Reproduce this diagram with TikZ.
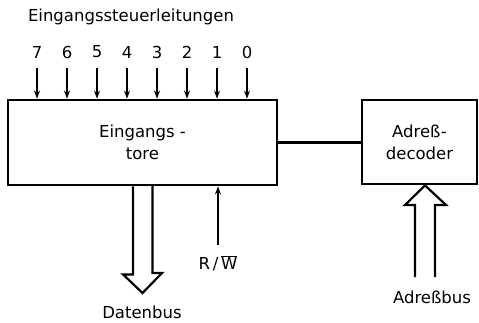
\documentclass[tikz,border=0pt]{standalone}
\usepackage{fontspec}
\setmainfont{DejaVu Sans}
\usetikzlibrary{calc,arrows.meta}
\begin{document}
\begin{tikzpicture}[x=1pt,y=-1pt, line width=2.2pt, line join=miter,
  box/.style={draw, line width=2.8pt, inner sep=0pt, align=center, font=\fontsize{16.5}{22}\selectfont},
  lbl/.style={font=\fontsize{16.5}{18}\selectfont, inner sep=0pt},
  inarr/.style={-{Stealth[length=8pt,width=6pt]}, line width=1.9pt}]
\useasboundingbox (0,0) rectangle (479,323);
\node[box, minimum width=269pt, minimum height=85pt] (tore) at (142.5,142.5) {Eingangs -\\tore};
\node[box, minimum width=115pt, minimum height=84pt] (deco) at (419.5,142) {Adreß-\\decoder};
\node[lbl] (title) at (131,17) {Eingangssteuerleitungen};
\foreach \i/\x in {7/37,6/67,5/97,4/127,3/157,2/187,1/217,0/247}{
  \node[lbl] (n\i) at (\x,52) {\i};
  \coordinate (s\i) at (\x,68);
  \draw[inarr] (s\i) -- (s\i |- tore.north);
}
\draw (tore.east) -- (tore.east -| deco.west);
% R/W
\node[lbl] (rw) at (218,263) {R\,/\,$\overline{\hbox{W}}$};
\coordinate (rwtail) at (218,245);
\draw[inarr] (rwtail) -- (rwtail |- tore.south);
% Datenbus
\coordinate (dbtip) at (142.5,293);
\node[lbl] (db) at (142,312) {Datenbus};
\draw (dbtip |- tore.south) ++(-9.5,0) -- ++(0,88) -- ++(-10,0) -- (dbtip) -- ++(19.5,-20) -- ++(-9.5,0) -- ++(0,-88);
% Adressbus
\coordinate (abtip) at (425,184);
\node[lbl] (ab) at (432,297) {Adreßbus};
\draw ($(abtip)+(-10,93)$) -- ++(0,-72) -- ++(-10,0) -- (abtip |- deco.south) -- ($(abtip)+(21,21)$) -- ++(-11,0) -- ++(0,72);
\end{tikzpicture}
\end{document}
